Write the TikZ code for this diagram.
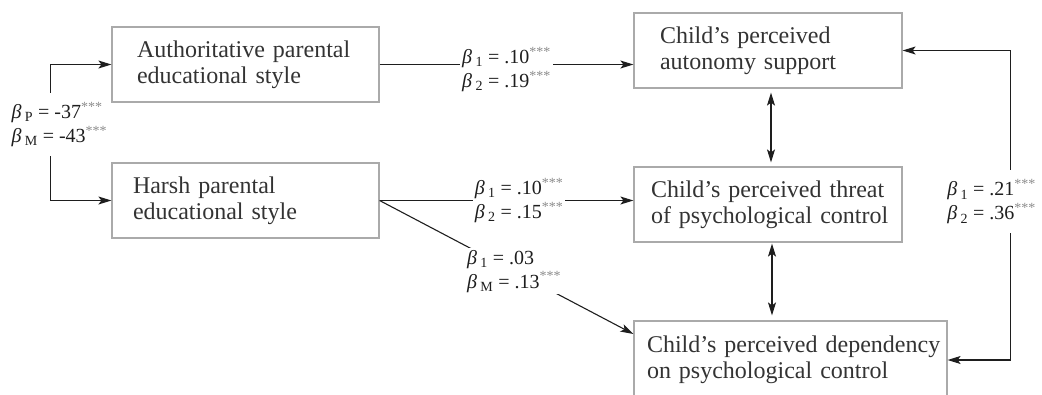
\documentclass[tikz,border=0pt]{standalone}
\usepackage{fontspec}
\setmainfont{Liberation Serif}
\usepackage{tikz}
\usetikzlibrary{arrows.meta}
\definecolor{PathTextColor}{RGB}{51,51,51}
\definecolor{PathBoxColor}{RGB}{170,170,170}
\definecolor{PathLineColor}{RGB}{30,30,30}
\definecolor{PathStarColor}{RGB}{140,140,140}
\newcommand{\coef}[3]{\textit{β}\,\textsubscript{#1} = #2\textsuperscript{\textcolor{PathStarColor}{#3}}}

\begin{document}
\begin{tikzpicture}[x=1pt,y=-1pt,text=PathTextColor,font=\fontsize{24}{26}\selectfont,
   >={Stealth[length=13pt,width=8pt,inset=3pt]},
   box/.style={draw=PathBoxColor,line width=1.2pt,minimum height=75pt,align=left,inner xsep=0pt},
   link/.style={PathLineColor,line width=1.1pt},
   coef/.style={font=\fontsize{20}{24}\selectfont,align=left,fill=white,inner sep=2pt}]
\useasboundingbox (0,0) rectangle (1042,394);
\node[box,minimum width=267pt,text width=217pt](auth) at(245.5,64.5) {\mbox{Authoritative parental}\\educational style};
\node[box,minimum width=267pt,text width=225pt](harsh) at(245.5,200.5) {Harsh parental\\educational style};
\node[box,minimum width=268pt,text width=216pt](auton) at(768,50.5) {Child's perceived\\autonomy support};
\node[box,minimum width=268pt,text width=234pt](threat) at(768,204.5) {\mbox{Child's perceived threat}\\\mbox{of psychological control}};
\node[box,minimum width=313pt,minimum height=78pt,text width=287pt](depend) at(790.5,360) {\mbox{Child's perceived dependency}\\on psychological control};
% paths from the parental styles
\draw[link,<->] (auth.west) -- ++(-61,0) |- node[coef,pos=.25,inner ysep=9pt,xshift=9pt,yshift=8pt](b-par)
   {\coef{P}{-37}{***}\\\coef{M}{-43}{***}} (harsh.west);
\draw[link,->] (auth.east) -- node[coef,pos=.5,yshift=-5pt](b-auton)
   {\coef{1}{.10}{***}\\\coef{2}{.19}{***}} (auth.east -| auton.west);
\draw[link,->] (harsh.east) -- node[coef,pos=.55](b-threat)
   {\coef{1}{.10}{***}\\\coef{2}{.15}{***}} (harsh.east -| threat.west);
\draw[link,->] (harsh.east) -- node[coef,pos=.53](b-depend)
   {\coef{1}{.03}{}\\\coef{M}{.13}{***}} ([yshift=26pt]depend.west);
% paths among the child's perceptions
\draw[link,<->,shorten <=4pt,shorten >=4pt] ([xshift=3pt]auton.south) -- ([xshift=3pt]threat.north);
\draw[link,<->,shorten <=1pt,shorten >=5pt] ([xshift=4pt]threat.south) -- ([xshift=4pt]threat.south |- depend.north);
\draw[link,<->] (auton.east) -- ++(108,0) |- node[coef,pos=.25,inner ysep=9pt,xshift=-19pt,yshift=3.5pt](b-back)
   {\coef{1}{.21}{***}\\\coef{2}{.36}{***}} (depend.east);
\end{tikzpicture}
\end{document}
